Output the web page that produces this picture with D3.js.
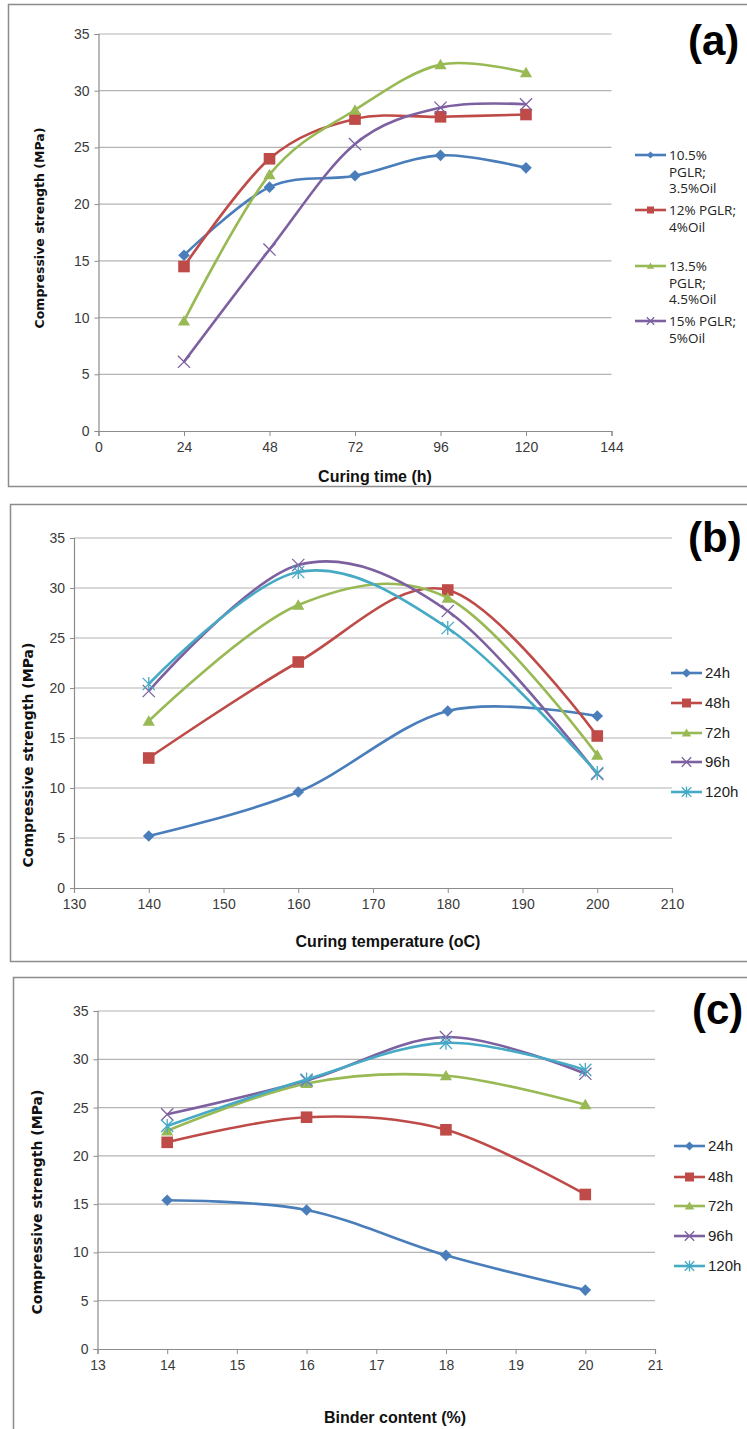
<!DOCTYPE html>
<html>
<head>
<meta charset="utf-8">
<script src="https://cdn.jsdelivr.net/npm/d3@7"></script>
<style>
  body { margin: 0; background: #fff; }
  svg { display: block; }
</style>
</head>
<body>
<svg id="chart" width="747" height="1429"></svg>
<script>

// Panel (a) data: curing time.
var timeHours = [24, 48, 72, 96, 120];
var timeTicks = [0, 24, 48, 72, 96, 120, 144];
var mixLabels = [
  ['10.5%', 'PGLR;', '3.5%Oil'],
  ['12% PGLR;', '4%Oil'],
  ['13.5%', 'PGLR;', '4.5%Oil'],
  ['15% PGLR;', '5%Oil']
];
var mix105 = [15.5, 21.5, 22.5, 24.3, 23.2];
var mix12 = [14.5, 24.0, 27.5, 27.7, 27.9];
var mix135 = [9.7, 22.6, 28.3, 32.3, 31.6];
var mix15 = [6.1, 16.0, 25.3, 28.5, 28.8];

// Panel (b) data: curing temperature.
var tempC = [140, 160, 180, 200];
var tempTicks = [130, 140, 150, 160, 170, 180, 190, 200, 210];
var ageLabels = ['24h', '48h', '72h', '96h', '120h'];
var temp24 = [5.2, 9.6, 17.7, 17.2];
var temp48 = [13.0, 22.6, 29.8, 15.2];
var temp72 = [16.7, 28.3, 29.0, 13.3];
var temp96 = [19.7, 32.3, 27.7, 11.4];
var temp120 = [20.4, 31.6, 26.0, 11.5];

// Panel (c) data: binder content.
var binderPct = [14, 16, 18, 20];
var binderTicks = [13, 14, 15, 16, 17, 18, 19, 20, 21];
var binder24 = [15.4, 14.4, 9.7, 6.1];
var binder48 = [21.4, 24.0, 22.7, 16.0];
var binder72 = [22.6, 27.5, 28.3, 25.3];
var binder96 = [24.3, 27.8, 32.3, 28.5];
var binder120 = [23.1, 27.9, 31.7, 28.9];

var yTicks = [0, 5, 10, 15, 20, 25, 30, 35];

// Excel 2007 series colours and marker kinds.
var colors = ['#4a7ebb', '#be4b48', '#98b954', '#7d60a0', '#46aac5'];
var markers = ['diamond', 'square', 'triangle', 'cross', 'star'];

var svg = d3.select('#chart');
var narrow = '"Liberation Sans Narrow", "Arial Narrow", sans-serif';

/*
 * Draw one marker at (0,0) inside group g.
 */
function drawMarker(g, kind, color, r) {
  if (kind === 'diamond') {
    g.append('path').attr('d', 'M0,' + (-r) + 'L' + r + ',0L0,' + r + 'L' + (-r) + ',0Z')
      .attr('fill', color);
  } else if (kind === 'square') {
    g.append('rect').attr('x', -r).attr('y', -r).attr('width', 2 * r).attr('height', 2 * r)
      .attr('fill', color);
  } else if (kind === 'triangle') {
    g.append('path').attr('d', 'M0,' + (-r) + 'L' + (r * 1.05) + ',' + (r * 0.8) + 'L' + (-r * 1.05) + ',' + (r * 0.8) + 'Z')
      .attr('fill', color);
  } else {
    var k = r * 1.05;
    var d = 'M' + (-k) + ',' + (-k) + 'L' + k + ',' + k + 'M' + (-k) + ',' + k + 'L' + k + ',' + (-k);
    if (kind === 'star') d += 'M0,' + (-r * 1.2) + 'L0,' + (r * 1.2);
    g.append('path').attr('d', d).attr('stroke', color).attr('stroke-width', 1.3).attr('fill', 'none');
  }
}

/*
 * Draw one framed panel.
 */
function drawPanel(p) {

  var g = svg.append('g');

  // Frame.
  g.append('rect')
    .attr('x', p.frame[0]).attr('y', p.frame[1])
    .attr('width', p.frame[2]).attr('height', p.frame[3])
    .attr('fill', '#fff').attr('stroke', '#8c8c8c').attr('stroke-width', 1.5);

  var x = d3.scaleLinear().domain(p.xDomain).range([p.left, p.right]);
  var y = d3.scaleLinear().domain([0, 35]).range([p.bottom, p.top]);

  // Gridlines.
  g.append('g').selectAll('line').data(yTicks.filter(function(v) { return v > 0; }))
    .join('line')
    .attr('x1', p.left).attr('x2', p.right)
    .attr('y1', function(v) { return y(v); }).attr('y2', function(v) { return y(v); })
    .attr('stroke', '#b4b4b4').attr('stroke-width', 1.2);

  // Axes.
  var xAxis = g.append('g').attr('transform', 'translate(0,' + p.bottom + ')')
    .call(d3.axisBottom(x).tickValues(p.xTicks).tickSize(5).tickPadding(6));
  var yAxis = g.append('g').attr('transform', 'translate(' + p.left + ',0)')
    .call(d3.axisLeft(y).tickValues(yTicks).tickSize(4).tickPadding(5));
  [xAxis, yAxis].forEach(function(a) {
    a.select('.domain').attr('stroke', '#8c8c8c').attr('stroke-width', 1.2);
    a.selectAll('.tick line').attr('stroke', '#8c8c8c');
    a.selectAll('.tick text').attr('fill', '#3a3a3a').style('font-family', narrow).style('font-size', '14px');
  });

  // Axis titles.
  g.append('text')
    .attr('x', p.xLabelPos[0]).attr('y', p.xLabelPos[1])
    .attr('text-anchor', 'middle')
    .style('font-family', narrow).style('font-weight', 'bold').style('font-size', p.xLabelSize + 'px')
    .attr('fill', '#111')
    .text(p.xLabel);
  g.append('text')
    .attr('transform', 'translate(' + p.yLabelPos[0] + ',' + p.yLabelPos[1] + ') rotate(-90)')
    .attr('text-anchor', 'middle')
    .style('font-family', '"DejaVu Sans", sans-serif').style('font-weight', 'bold').style('font-size', p.yLabelSize + 'px')
    .attr('fill', '#111')
    .text('Compressive strength (MPa)');

  // Panel tag.
  g.append('text')
    .attr('x', p.tagPos[0]).attr('y', p.tagPos[1])
    .style('font-family', '"Liberation Sans", Arial, sans-serif').style('font-weight', 'bold').style('font-size', '42px')
    .attr('fill', '#000')
    .text(p.tag);

  // Series.
  var line = d3.line()
    .x(function(d) { return x(d[0]); })
    .y(function(d) { return y(d[1]); })
    .curve(d3.curveCardinal.tension(0));

  p.series.forEach(function(values, i) {
    var pts = p.xValues.map(function(v, j) { return [v, values[j]]; });
    g.append('path').datum(pts)
      .attr('d', line)
      .attr('fill', 'none').attr('stroke', colors[i]).attr('stroke-width', 2.6);
    pts.forEach(function(pt) {
      var m = g.append('g').attr('transform', 'translate(' + x(pt[0]) + ',' + y(pt[1]) + ')');
      drawMarker(m, markers[i], colors[i], 5.8);
    });
  });

  // Legend.
  var lg = g.append('g');
  p.labels.forEach(function(lab, i) {
    var ly = p.legendY[i];
    lg.append('line')
      .attr('x1', p.legendX).attr('x2', p.legendX + 31)
      .attr('y1', ly).attr('y2', ly)
      .attr('stroke', colors[i]).attr('stroke-width', 2.6);
    var m = lg.append('g').attr('transform', 'translate(' + (p.legendX + 15.5) + ',' + ly + ')');
    drawMarker(m, markers[i], colors[i], p.legendMarker);
    var lines = Array.isArray(lab) ? lab : [lab];
    var t = lg.append('text')
      .attr('x', p.legendX + 34).attr('y', ly + 5)
      .style('font-family', p.legendFont).style('font-size', p.legendSize + 'px')
      .attr('fill', '#222');
    lines.forEach(function(s, k) {
      t.append('tspan').attr('x', p.legendX + 34).attr('dy', k === 0 ? 0 : p.legendLine).text(s);
    });
  });
}

drawPanel({
  frame: [8.5, 4.5, 760, 482],
  left: 98.5, right: 611.5, top: 34, bottom: 431,
  xDomain: [0, 144], xTicks: timeTicks, xValues: timeHours,
  series: [mix105, mix12, mix135, mix15],
  labels: mixLabels,
  xLabel: 'Curing time (h)', xLabelPos: [375, 482], xLabelSize: 16,
  yLabelPos: [44, 228], yLabelSize: 12.5,
  tag: '(a)', tagPos: [688, 55],
  legendX: 635, legendY: [155, 210, 266, 321], legendLine: 16.5,
  legendFont: '"Open Sans", sans-serif', legendSize: 13.5, legendMarker: 3.5
});

drawPanel({
  frame: [10.5, 504.5, 760, 457],
  left: 74, right: 672, top: 538, bottom: 888,
  xDomain: [130, 210], xTicks: tempTicks, xValues: tempC,
  series: [temp24, temp48, temp72, temp96, temp120],
  labels: ageLabels,
  xLabel: 'Curing temperature (oC)', xLabelPos: [388, 947], xLabelSize: 16,
  yLabelPos: [33, 755], yLabelSize: 14,
  tag: '(b)', tagPos: [688, 552],
  legendX: 671, legendY: [673, 703, 733, 762, 792], legendLine: 16,
  legendFont: narrow, legendSize: 15, legendMarker: 4.5
});

drawPanel({
  frame: [13.5, 977.5, 760, 470],
  left: 97.5, right: 655, top: 1011, bottom: 1349,
  xDomain: [13, 21], xTicks: binderTicks, xValues: binderPct,
  series: [binder24, binder48, binder72, binder96, binder120],
  labels: ageLabels,
  xLabel: 'Binder content (%)', xLabelPos: [395, 1423], xLabelSize: 16,
  yLabelPos: [42, 1202], yLabelSize: 14,
  tag: '(c)', tagPos: [692, 1024],
  legendX: 674, legendY: [1146, 1177, 1206, 1236, 1266], legendLine: 16,
  legendFont: narrow, legendSize: 15, legendMarker: 4.5
});

</script>
</body>
</html>
